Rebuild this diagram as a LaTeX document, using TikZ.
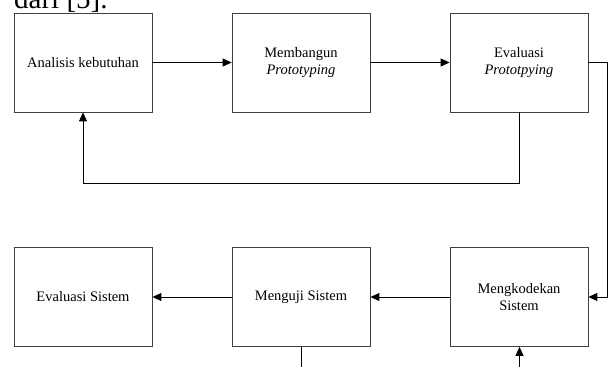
\documentclass[tikz,border=0pt]{standalone}
\usepackage{fontspec}
\setmainfont{Liberation Serif}
\usetikzlibrary{arrows.meta}
\begin{document}
\begin{tikzpicture}[x=1pt,y=-1pt,
  box/.style={draw=black!75, line width=0.8pt, minimum width=138pt, minimum height=99pt, align=center, inner sep=0pt, font=\fontsize{14.5}{17}\selectfont},
  conn/.style={line width=0.9pt, -{Triangle[length=9pt,width=8pt]}},
  plain/.style={line width=0.9pt}]
\useasboundingbox (0,0) rectangle (608,367);
\begin{scope}
\clip (0,0) rectangle (608,367);
\node[anchor=base west, inner sep=0pt, font=\fontsize{29}{30}\selectfont] (cap) at (14,8) {dari [5].};
\end{scope}
\node[box] (ak) at (83,62.5) {Analisis kebutuhan};
\node[box] (mp) at (301,62.5) {Membangun\\\textit{Prototyping}};
\node[box] (ep) at (519,62.5) {Evaluasi\\\textit{Prototpying}};
\node[box] (es) at (83,297) {Evaluasi Sistem};
\node[box] (ms) at (301,297) {Menguji Sistem};
\node[box] (ks) at (519,297) {Mengkodekan\\Sistem};
\coordinate (fbl) at (83,183);
\coordinate (fbr) at (519,183);
\coordinate (rt) at (607,62.5);
\coordinate (rb) at (607,297);
\coordinate (d1) at (301,367);
\coordinate (d2) at (519.5,367);
\draw[conn] (ak) -- (mp);
\draw[conn] (mp) -- (ep);
\draw[conn] (ep.south) -- (fbr) -- (fbl) -- (ak.south);
\draw[conn] (ep.east) -- (rt) -- (rb) -- (ks.east);
\draw[conn] (ks) -- (ms);
\draw[conn] (ms) -- (es);
\draw[plain] (ms.south) -- (d1);
\draw[conn] (d2) -- (ks.south -| d2);
\end{tikzpicture}
\end{document}
